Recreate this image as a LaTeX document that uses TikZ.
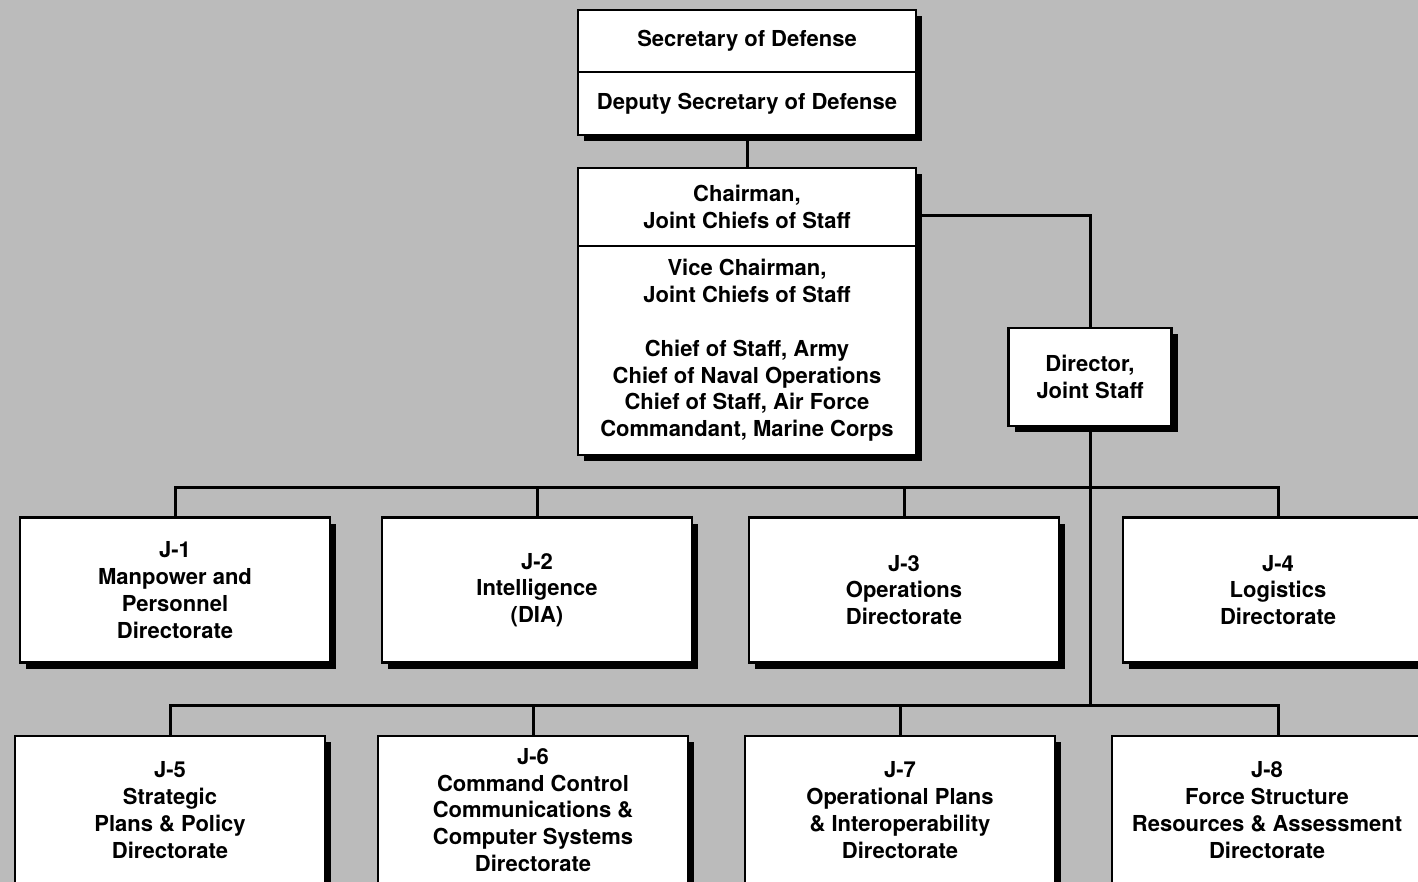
\documentclass[tikz,border=0pt]{standalone}
\usepackage{fontspec}
\setsansfont{TeX Gyre Heros}
\usetikzlibrary{positioning,backgrounds}
\definecolor{scanG}{HTML}{BBBBBB}

\begin{document}
\begin{tikzpicture}[x=0.5pt, y=-0.5pt,
  every node/.style={font=\sffamily\bfseries\fontsize{11}{13.4}\selectfont},
  office/.style={rectangle, draw=black, line width=1.2pt, fill=white, align=center,
                 inner sep=2pt, outer sep=0pt},
  topbox/.style={office, minimum width=169pt},
  jbox/.style={office, minimum width=155pt, minimum height=72.5pt},
  boxshadow/.style={fill=black},
  link/.style={line width=1.5pt, black}
]
  % page
  \useasboundingbox (0,0) rectangle (1418,882);
  \clip (0,0) rectangle (1418,882);

  % secretary and chairman
  \node[topbox, minimum height=31pt] (sec) at (747,41) {Secretary of Defense};
  \node[topbox, minimum height=31.5pt, below=0pt of sec] (dep) {Deputy Secretary of Defense};
  \node[topbox, minimum height=39pt] (chair) at (747,207) {Chairman,\\ Joint Chiefs of Staff};
  \node[topbox, minimum height=104.5pt, below=0pt of chair] (chiefs)
        {Vice Chairman,\\ Joint Chiefs of Staff\\ \\ Chief of Staff, Army\\ Chief of Naval Operations\\
         Chief of Staff, Air Force\\ Commandant, Marine Corps};
  \node[office, minimum width=81.5pt, minimum height=49pt] (dir) at (1090,377) {Director,\\ Joint Staff};

  % directorates
  \node[jbox] (j1) at (175,590)  {J-1\\ Manpower and\\ Personnel\\ Directorate};
  \node[jbox] (j2) at (537,590)  {J-2\\ Intelligence\\ (DIA)};
  \node[jbox] (j3) at (904,590)  {J-3\\ Operations\\ Directorate};
  \node[jbox] (j4) at (1278,590) {J-4\\ Logistics\\ Directorate};
  \node[jbox, minimum height=74pt] (j5) at (170,810)  {J-5\\ Strategic\\ Plans \& Policy\\ Directorate};
  \node[jbox, minimum height=74pt] (j6) at (533,810)  {J-6\\ Command Control\\ Communications \&\\ Computer Systems\\ Directorate};
  \node[jbox, minimum height=74pt] (j7) at (900,810)  {J-7\\ Operational Plans\\ \& Interoperability\\ Directorate};
  \node[jbox, minimum height=74pt] (j8) at (1267,810) {J-8\\ Force Structure\\ Resources \& Assessment\\ Directorate};

  \coordinate (bus1) at (1090,487);
  \coordinate (bus2) at (1090,705);

  % connectors
  \draw[link] (dep.south) -- (chair.north);
  \draw[link] ([yshift=-4.5pt]chair.east) -| (dir.north);
  \draw[link] (dir.south) -- (dir.south |- bus2);
  \draw[link] (j1.north) |- (bus1) -| (j4.north);
  \draw[link] (j2.north) -- (j2.north |- bus1);
  \draw[link] (j3.north) -- (j3.north |- bus1);
  \draw[link] (j5.north) |- (bus2) -| (j4.south |- j8.north);
  \draw[link] (j6.north) -- (j6.north |- bus2);
  \draw[link] (j7.north) -- (j7.north |- bus2);

  % gray scan background and box shadows
  \begin{scope}[on background layer]
    \fill[scanG] (0,0) rectangle (1418,882);
    \foreach \t/\b in {sec/dep, chair/chiefs, dir/dir, j1/j1, j2/j2, j3/j3, j4/j4, j5/j5, j6/j6, j7/j7, j8/j8}
      \fill[boxshadow] ([shift={(3pt,-3pt)}]\t.north west) rectangle ([shift={(3pt,-3pt)}]\b.south east);
  \end{scope}
\end{tikzpicture}
\end{document}
